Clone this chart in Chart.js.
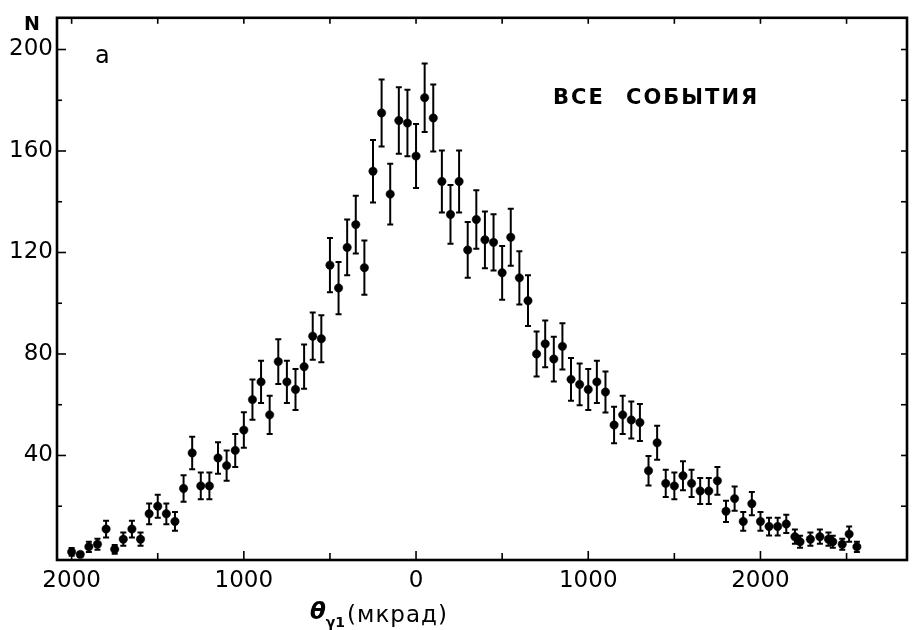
<!DOCTYPE html>
<html>
<head>
<meta charset="utf-8">
<script src="https://cdn.jsdelivr.net/npm/chart.js@4.4.1/dist/chart.umd.min.js"></script>
<style>
  html, body { margin: 0; padding: 0; background: #fff; }
  canvas { display: block; }
</style>
</head>
<body>
<canvas id="chartTheta" width="913" height="630"></canvas>
<script>
// угол theta_gamma1, мкрад (центры бинов)
const thetas = [
  -2000, -1950, -1900, -1850, -1800, -1750, -1700, -1650, -1600, -1550,
  -1500, -1450, -1400, -1350, -1300, -1250, -1200, -1150, -1100, -1050,
  -1000, -950, -900, -850, -800, -750, -700, -650, -600, -550,
  -500, -450, -400, -350, -300, -250, -200, -150, -100, -50,
  0, 50, 100, 150, 200, 250, 300, 350, 400, 450,
  500, 550, 600, 650, 700, 750, 800, 850, 900, 950,
  1000, 1050, 1100, 1150, 1200, 1250, 1300, 1350, 1400, 1450,
  1500, 1550, 1600, 1650, 1700, 1750, 1800, 1850, 1900, 1950,
  2000, 2050, 2100, 2150, 2200, 2230, 2290, 2345, 2395, 2420,
  2475, 2515, 2560
];
// число событий N
const counts = [
  2, 1, 4, 5, 11, 3, 7, 11, 7, 17,
  20, 17, 14, 27, 41, 28, 28, 39, 36, 42,
  50, 62, 69, 56, 77, 69, 66, 75, 87, 86,
  115, 106, 122, 131, 114, 152, 175, 143, 172, 171,
  158, 181, 173, 148, 135, 148, 121, 133, 125, 124,
  112, 126, 110, 101, 80, 84, 78, 83, 70, 68,
  66, 69, 65, 52, 56, 54, 53, 34, 45, 29,
  28, 32, 29, 26, 26, 30, 18, 23, 14, 21,
  14, 12, 12, 13, 8, 6, 7, 8, 7, 6,
  5, 9, 4
];
// полуширина ошибок
const errs = [
  1.5, 1, 2, 2.2, 3.3, 1.7, 2.6, 3.3, 2.6, 4.1,
  4.5, 4.1, 3.7, 5.2, 6.4, 5.3, 5.3, 6.2, 6, 6.5,
  7, 7.9, 8.3, 7.5, 8.8, 8.3, 8.1, 8.7, 9.3, 9.3,
  10.7, 10.3, 11, 11.4, 10.7, 12.3, 13.2, 12, 13.1, 13.1,
  12.6, 13.5, 13.2, 12.2, 11.6, 12.2, 11, 11.5, 11.2, 11.1,
  10.6, 11.2, 10.5, 10, 8.9, 9.2, 8.8, 9.1, 8.4, 8.2,
  8.1, 8.3, 8.1, 7.2, 7.5, 7.3, 7.3, 5.8, 6.7, 5.4,
  5.3, 5.7, 5.4, 5.1, 5.1, 5.5, 4.2, 4.8, 3.7, 4.6,
  3.7, 3.5, 3.5, 3.6, 2.8, 2.4, 2.6, 2.8, 2.6, 2.4,
  2.2, 3, 2
];
// деления осей
const xTicks = [-2000, -1500, -1000, -500, 0, 500, 1000, 1500, 2000, 2500];
const yTicks = [20, 40, 60, 80, 100, 120, 140, 160, 180, 200];
const xLabelEvery = 1000;
const yLabelEvery = 40;

const points = thetas.map((t, i) => ({ x: t, y: counts[i], e: errs[i] }));

const errorBars = {
  id: 'errorBars',
  afterDatasetsDraw(chart) {
    const { ctx, chartArea: a, scales: { x, y } } = chart;
    ctx.save();
    ctx.beginPath();
    ctx.rect(a.left, a.top, a.right - a.left, a.bottom - a.top);
    ctx.clip();
    ctx.strokeStyle = '#000';
    ctx.lineWidth = 2;
    points.forEach(p => {
      const px = x.getPixelForValue(p.x);
      const y1 = y.getPixelForValue(p.y - p.e);
      const y2 = y.getPixelForValue(p.y + p.e);
      ctx.beginPath();
      ctx.moveTo(px, y1); ctx.lineTo(px, y2);
      ctx.moveTo(px - 3, y1); ctx.lineTo(px + 3, y1);
      ctx.moveTo(px - 3, y2); ctx.lineTo(px + 3, y2);
      ctx.stroke();
    });
    ctx.restore();
  }
};

const frame = {
  id: 'frame',
  afterDraw(chart) {
    const { ctx, chartArea: a, scales: { x, y } } = chart;
    ctx.save();
    ctx.strokeStyle = '#000';
    ctx.lineWidth = 1.6;
    const seg = (x1, y1, x2, y2) => { ctx.beginPath(); ctx.moveTo(x1, y1); ctx.lineTo(x2, y2); ctx.stroke(); };
    x.ticks.forEach(t => {
      const px = x.getPixelForValue(t.value);
      const len = t.value % xLabelEvery === 0 ? 9 : 7;
      seg(px, a.bottom, px, a.bottom - len);
      seg(px, a.top, px, a.top + 6);
    });
    y.ticks.forEach(t => {
      const py = y.getPixelForValue(t.value);
      const len = t.value % yLabelEvery === 0 ? 9 : 5;
      seg(a.left, py, a.left + len, py);
      seg(a.right, py, a.right - 6, py);
    });
    ctx.lineWidth = 2.6;
    ctx.strokeRect(a.left, a.top, a.right - a.left, a.bottom - a.top);

    // подписи
    ctx.fillStyle = '#000';
    ctx.textBaseline = 'alphabetic';
    ctx.textAlign = 'left';
    ctx.font = 'bold 19px "DejaVu Sans"';
    ctx.fillText('N', a.left - 33, a.top + 12);

    ctx.font = '24px "DejaVu Sans"';
    ctx.fillText('а', a.left + 38, a.top + 45);

    ctx.font = 'bold 21px "DejaVu Sans"';
    ctx.letterSpacing = '2px';
    ctx.wordSpacing = '12px';
    ctx.fillText('ВСЕ СОБЫТИЯ', a.left + 496, a.top + 86);
    ctx.letterSpacing = '0px';
    ctx.wordSpacing = '0px';

    // заголовок оси x
    const base = a.bottom + 62;
    let cx = a.left + 253;
    ctx.font = 'italic bold 23px "DejaVu Sans"';
    ctx.fillText('θ', cx, base - 3);
    cx += ctx.measureText('θ').width;
    ctx.font = 'bold 14px "DejaVu Sans"';
    ctx.fillText('γ1', cx, base + 5);
    cx += ctx.measureText('γ1').width + 2;
    ctx.font = '23px "DejaVu Sans"';
    ctx.letterSpacing = '1px';
    ctx.fillText('(мкрад)', cx, base);
    ctx.restore();
  }
};

const ctx = document.getElementById('chartTheta').getContext('2d');
const myChart = new Chart(ctx, {
  type: 'scatter',
  data: {
    datasets: [{
      data: points,
      backgroundColor: '#000',
      borderColor: '#000',
      pointRadius: 4.2,
      pointBorderWidth: 0.5,
      showLine: false
    }]
  },
  options: {
    responsive: false,
    animation: false,
    events: [],
    layout: { padding: { top: 15, right: 6, left: 0, bottom: 0 } },
    plugins: { legend: { display: false }, tooltip: { enabled: false } },
    scales: {
      x: {
        type: 'linear',
        position: 'bottom',
        min: -2085,
        max: 2851,
        grid: { display: false, drawTicks: false },
        border: { display: false },
        afterBuildTicks: s => { s.ticks = xTicks.map(v => ({ value: v })); },
        ticks: {
          autoSkip: false,
          maxRotation: 0,
          padding: 7,
          color: '#000',
          font: { family: 'DejaVu Sans', size: 23 },
          callback: v => v % xLabelEvery === 0 ? String(Math.abs(v)) : ''
        },
        afterFit: s => { s.height = 70; }
      },
      y: {
        type: 'linear',
        min: -1.2,
        max: 212.5,
        grid: { display: false, drawTicks: false },
        border: { display: false },
        afterBuildTicks: s => { s.ticks = yTicks.map(v => ({ value: v })); },
        ticks: {
          autoSkip: false,
          padding: 4,
          color: '#000',
          font: { family: 'DejaVu Sans', size: 23 },
          callback: v => v % yLabelEvery === 0 ? String(v) : ''
        },
        afterFit: s => { s.width = 57; }
      }
    }
  },
  plugins: [errorBars, frame]
});
</script>
</body>
</html>
